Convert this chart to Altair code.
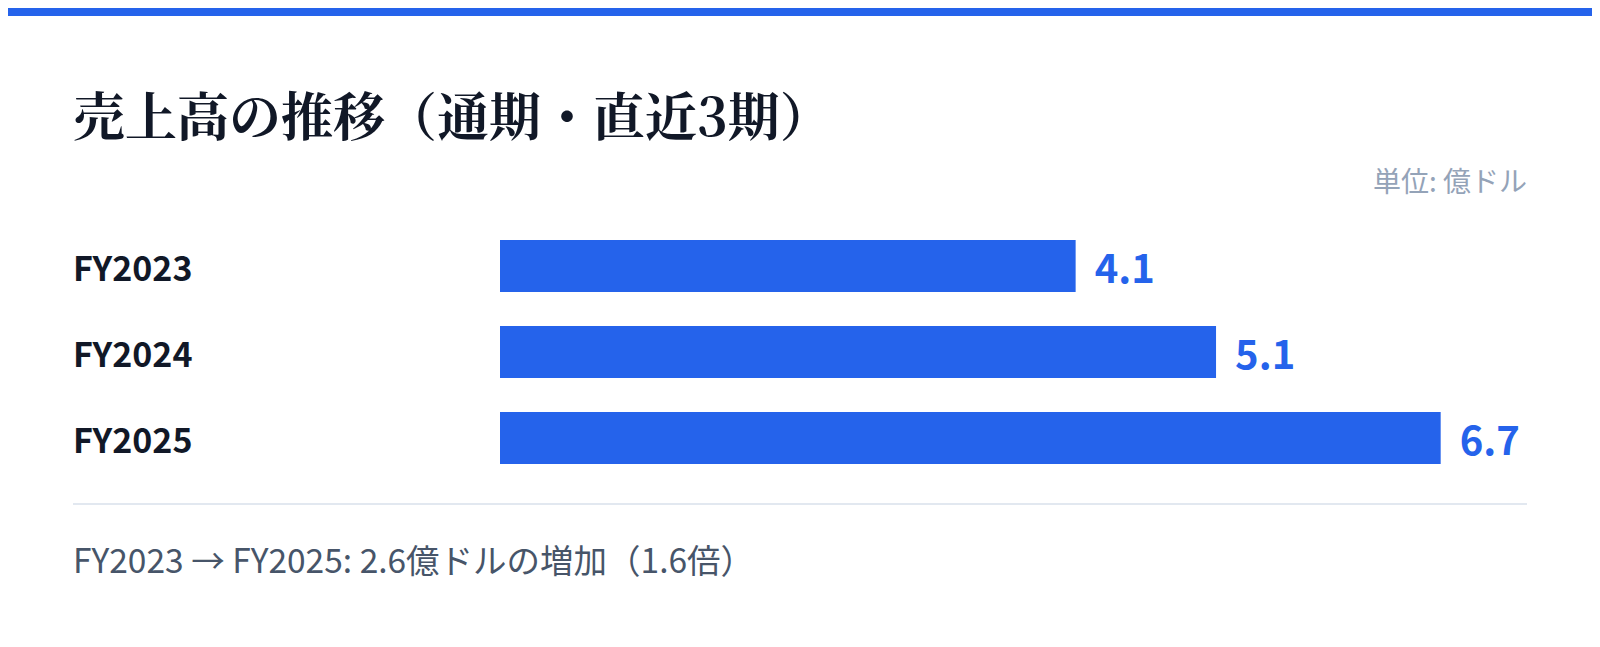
import altair as alt
import pandas as pd

# ---- data ----
periods = ["FY2023", "FY2024", "FY2025"]
sales = [4.1, 5.1, 6.7]
value_labels = ["4.1", "5.1", "6.7"]
title_text = "売上高の推移（通期・直近3期）"
unit_text = "単位: 億ドル"
footer_text = "FY2023 → FY2025: 2.6億ドルの増加（1.6倍）"

df = pd.DataFrame({"period": periods, "sales": sales, "label": value_labels})

W, H = 1584, 631
BLUE = "#2563eb"
SANS = "Noto Sans CJK JP"

x_scale = alt.Scale(domain=[0, 7.5], range=[492, 492 + 140.4 * 7.5], nice=False, zero=True)
y_scale = alt.Scale(domain=periods, range=[232, 456], paddingInner=0.395, paddingOuter=0)

base = alt.Chart(df)

bars = base.mark_bar(color=BLUE, cornerRadius=0).encode(
    x=alt.X("sales:Q", scale=x_scale, axis=None),
    y=alt.Y("period:N", scale=y_scale, axis=None, sort=periods),
)

vals = base.mark_text(
    align="left", baseline="middle", dx=19, dy=5, font=SANS, fontSize=40,
    fontWeight="bold", color=BLUE
).encode(
    x=alt.X("sales:Q", scale=x_scale, axis=None),
    y=alt.Y("period:N", scale=y_scale, axis=None, sort=periods),
    text="label:N",
)

cats = base.mark_text(
    align="left", baseline="middle", dy=5, font=SANS, fontSize=34,
    fontWeight="bold", color="#111827"
).encode(
    x=alt.value(65),
    y=alt.Y("period:N", scale=y_scale, axis=None, sort=periods),
    text="period:N",
)

one = pd.DataFrame({"t": [title_text], "u": [unit_text], "f": [footer_text]})
ann = alt.Chart(one)

stripe = ann.mark_rect(color=BLUE).encode(
    x=alt.value(0), x2=alt.value(W), y=alt.value(0), y2=alt.value(8)
)

title = ann.mark_text(
    align="left", baseline="middle", font="Noto Serif CJK JP, serif", fontSize=52,
    fontWeight="bold", color="#111827"
).encode(x=alt.value(65), y=alt.value(112), text="t:N")

unit = ann.mark_text(
    align="right", baseline="middle", font=SANS, fontSize=28, color="#94a3b8"
).encode(x=alt.value(1519), y=alt.value(176), text="u:N")

sep = ann.mark_rule(color="#e2e8f0", strokeWidth=2).encode(
    x=alt.value(65), x2=alt.value(1519), y=alt.value(496)
)

footer = ann.mark_text(
    align="left", baseline="middle", font=SANS, fontSize=33.5, color="#475569"
).encode(x=alt.value(65), y=alt.value(555), text="f:N")

chart = alt.layer(stripe, title, unit, bars, vals, cats, sep, footer).properties(
    width=W, height=H, autosize=alt.AutoSizeParams(type="none"), padding=0,
    background="white"
).configure_view(stroke=None)

chart.save("out.html", embed_options={"renderer": "svg", "actions": False})
